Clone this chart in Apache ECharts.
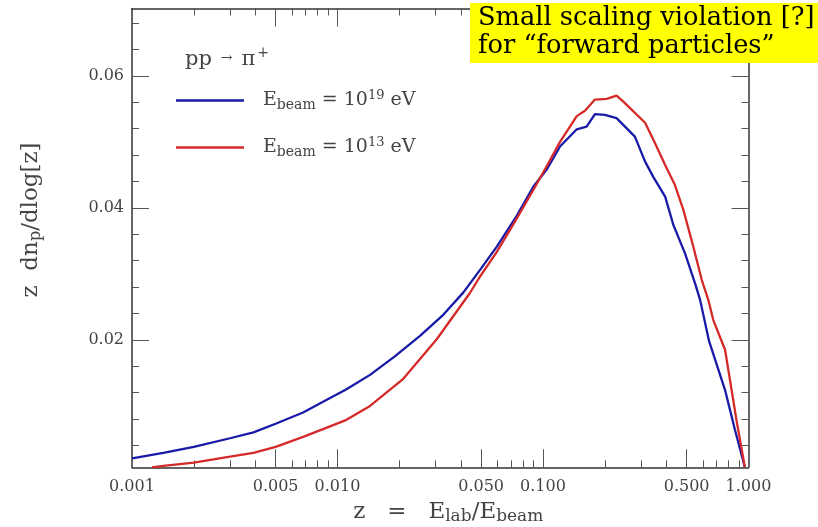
<!DOCTYPE html>
<html><head><meta charset="utf-8">
<script src="https://cdn.jsdelivr.net/npm/echarts@6/dist/echarts.min.js"></script>
<style>html,body{margin:0;padding:0;background:#fff}#c{width:818px;height:527px}</style>
</head><body><div id="c"></div>
<script>
// ---- data ----
const blueZ = [0.001, 0.00142, 0.002, 0.003, 0.0039, 0.005, 0.0068, 0.0092, 0.0109, 0.0144, 0.019, 0.0252, 0.0327, 0.041, 0.0494, 0.0595, 0.0745, 0.0897, 0.1042, 0.121, 0.146, 0.163, 0.179, 0.2, 0.228, 0.28, 0.314, 0.344, 0.393, 0.431, 0.491, 0.549, 0.581, 0.643, 0.769, 0.859, 0.96];
const blueY = [0.00205, 0.0029, 0.0038, 0.0051, 0.0060, 0.0073, 0.0090, 0.0112, 0.0124, 0.0147, 0.0175, 0.0206, 0.0238, 0.0272, 0.0306, 0.0341, 0.0388, 0.0432, 0.0458, 0.0493, 0.0519, 0.0523, 0.0542, 0.0541, 0.0536, 0.0508, 0.0470, 0.0447, 0.0417, 0.0374, 0.0331, 0.0286, 0.0261, 0.0198, 0.0124, 0.0064, 0.0007];
const redZ = [0.00125, 0.00142, 0.002, 0.003, 0.0039, 0.005, 0.0068, 0.0092, 0.0109, 0.0144, 0.0209, 0.0304, 0.0441, 0.0494, 0.0595, 0.0717, 0.0897, 0.1042, 0.121, 0.146, 0.160, 0.179, 0.204, 0.228, 0.246, 0.314, 0.351, 0.393, 0.438, 0.482, 0.539, 0.592, 0.637, 0.674, 0.769, 0.879, 0.96];
const redY = [0.0007, 0.0009, 0.0014, 0.0023, 0.0029, 0.0038, 0.0053, 0.0069, 0.0078, 0.0100, 0.0141, 0.0201, 0.0271, 0.0296, 0.0333, 0.0375, 0.0427, 0.0463, 0.0500, 0.0539, 0.0547, 0.0564, 0.0565, 0.0570, 0.0561, 0.0529, 0.0498, 0.0465, 0.0435, 0.0397, 0.0341, 0.0291, 0.0261, 0.0230, 0.0185, 0.0074, 0.0007];
const seriesNames = ['E_beam = 10^19 eV', 'E_beam = 10^13 eV'];
const xLabelValues = [0.001, 0.005, 0.01, 0.05, 0.1, 0.5, 1];
const xMajorTicks = [0.005, 0.01, 0.05, 0.1, 0.5];
const xMinorTicks = [0.002, 0.003, 0.004, 0.006, 0.007, 0.008, 0.009, 0.02, 0.03, 0.04, 0.06, 0.07, 0.08, 0.09, 0.2, 0.3, 0.4, 0.6, 0.7, 0.8, 0.9];
const yLabelValues = [0.02, 0.04, 0.06];
const yMinorTicks = [0.004, 0.008, 0.012, 0.016, 0.024, 0.028, 0.032, 0.036, 0.044, 0.048, 0.052, 0.056, 0.064, 0.068];

const FONT = 'DejaVu Serif';
const X_MIN = 0.001, X_MAX = 1, Y_MIN = 0.0007, Y_MAX = 0.0702;

function xAx(pos, ticks, len, withLabel, withLine) {
  const a = {
    type: 'log', logBase: 10, min: X_MIN, max: X_MAX, position: pos, gridIndex: 0,
    axisLine: {show: withLine, onZero: false, lineStyle: {color: '#333', width: 1.5}},
    axisTick: {show: true, inside: true, length: len, customValues: ticks, lineStyle: {color: '#555', width: 1}},
    axisLabel: {show: false},
    splitLine: {show: false}
  };
  if (withLabel) {
    a.axisLabel = {show: true, customValues: xLabelValues, formatter: v => Number(v).toFixed(3),
      fontFamily: FONT, fontSize: 16, color: '#444', margin: 12};
    a.name = '{n|z   =   E}{sub|lab}{n|/E}{sub|beam}';
    a.nameLocation = 'middle';
    a.nameGap = 27;
    a.nameTextStyle = {fontFamily: FONT, color: '#444', padding: [0, 0, 0, 16], rich: {
      n: {fontFamily: FONT, fontSize: 23, color: '#444', verticalAlign: 'middle'},
      sub: {fontFamily: FONT, fontSize: 17, color: '#444', padding: [10, 0, 0, 0], verticalAlign: 'middle'}
    }};
  }
  return a;
}
function yAx(pos, ticks, len, withLabel, withLine) {
  const a = {
    type: 'value', min: Y_MIN, max: Y_MAX, position: pos, gridIndex: 0,
    axisLine: {show: withLine, onZero: false, lineStyle: {color: '#333', width: 1.5}},
    axisTick: {show: true, inside: true, length: len, customValues: ticks, lineStyle: {color: '#555', width: 1}},
    axisLabel: {show: false},
    splitLine: {show: false}
  };
  if (withLabel) {
    a.axisLabel = {show: true, customValues: yLabelValues, formatter: v => Number(v).toFixed(2),
      fontFamily: FONT, fontSize: 16, color: '#444', margin: 8};
    a.name = '{n|z  dn}{sub|p}{n|/dlog[z]}';
    a.nameLocation = 'middle';
    a.nameGap = 88;
    a.nameTextStyle = {fontFamily: FONT, color: '#444', padding: [0, 0, 0, 36], rich: {
      n: {fontFamily: FONT, fontSize: 23, color: '#444', verticalAlign: 'middle'},
      sub: {fontFamily: FONT, fontSize: 16, color: '#444', padding: [10, 0, 0, 0], verticalAlign: 'middle'}
    }};
  }
  return a;
}

const legendRich = {
  n: {fontFamily: FONT, fontSize: 19, color: '#444', verticalAlign: 'middle'},
  sub: {fontFamily: FONT, fontSize: 14, color: '#444', padding: [9, 0, 0, 0], verticalAlign: 'middle'},
  sup: {fontFamily: FONT, fontSize: 13, color: '#444', padding: [0, 0, 10, 0], verticalAlign: 'middle'}
};
function legendText(name) {
  const m = name.match(/E_(\w+) = 10\^(\d+) eV/);
  return '{n|E}{sub|' + m[1] + '}{n| = 10}{sup|' + m[2] + '}{n| eV}';
}

const chart = echarts.init(document.getElementById('c'), null, {renderer: 'canvas'});
chart.setOption({
  animation: false,
  backgroundColor: '#fff',
  title: {
    text: 'Small scaling violation [?]\nfor \u201cforward particles\u201d',
    left: 470, top: 3, padding: [1, 20, 3, 8], backgroundColor: '#ffff00',
    textStyle: {fontFamily: FONT, fontSize: 25.7, fontWeight: 'normal', color: '#000', lineHeight: 28}
  },
  grid: {left: 132, right: 69.5, top: 8.5, bottom: 59.7, containLabel: false, outerBoundsMode: 'none'},
  legend: {
    orient: 'vertical', left: 176, top: 89, padding: 0, itemWidth: 68, itemHeight: 2.5, itemGap: 24,
    icon: 'rect',
    formatter: legendText,
    textStyle: {padding: [0, 0, 0, 14], rich: legendRich},
    selectedMode: false
  },
  graphic: [{
    type: 'text', left: 185, top: 46,
    style: {
      text: '{n|pp}{a|  \u2192  }{n|\u03c0}{sup|+}',
      rich: {
        n: {fontFamily: FONT, fontSize: 21, fill: '#444', verticalAlign: 'middle'},
        a: {fontFamily: FONT, fontSize: 14, fill: '#444', verticalAlign: 'middle', padding: [0, 0, 4, 0]},
        sup: {fontFamily: FONT, fontSize: 14, fill: '#444', verticalAlign: 'middle', padding: [0, 0, 14, 2]}
      }
    }
  }],
  xAxis: [
    xAx('bottom', xMajorTicks, 18, true, true),
    xAx('bottom', xMinorTicks, 7, false, false),
    xAx('top', xMajorTicks, 18, false, true),
    xAx('top', xMinorTicks, 7, false, false)
  ],
  yAxis: [
    yAx('left', yLabelValues, 17, true, true),
    yAx('left', yMinorTicks, 7, false, false),
    yAx('right', yLabelValues, 17, false, true),
    yAx('right', yMinorTicks, 7, false, false)
  ],
  series: [
    {name: seriesNames[0], type: 'line', xAxisIndex: 0, yAxisIndex: 0, symbol: 'none', smooth: false,
     lineStyle: {color: '#1a1aa8', width: 2.3}, itemStyle: {color: '#1a1aa8'},
     data: blueZ.map((z, i) => [z, blueY[i]])},
    {name: seriesNames[1], type: 'line', xAxisIndex: 0, yAxisIndex: 0, symbol: 'none', smooth: false,
     lineStyle: {color: '#d42a2a', width: 2.3}, itemStyle: {color: '#d42a2a'},
     data: redZ.map((z, i) => [z, redY[i]])}
  ]
});
</script></body></html>
